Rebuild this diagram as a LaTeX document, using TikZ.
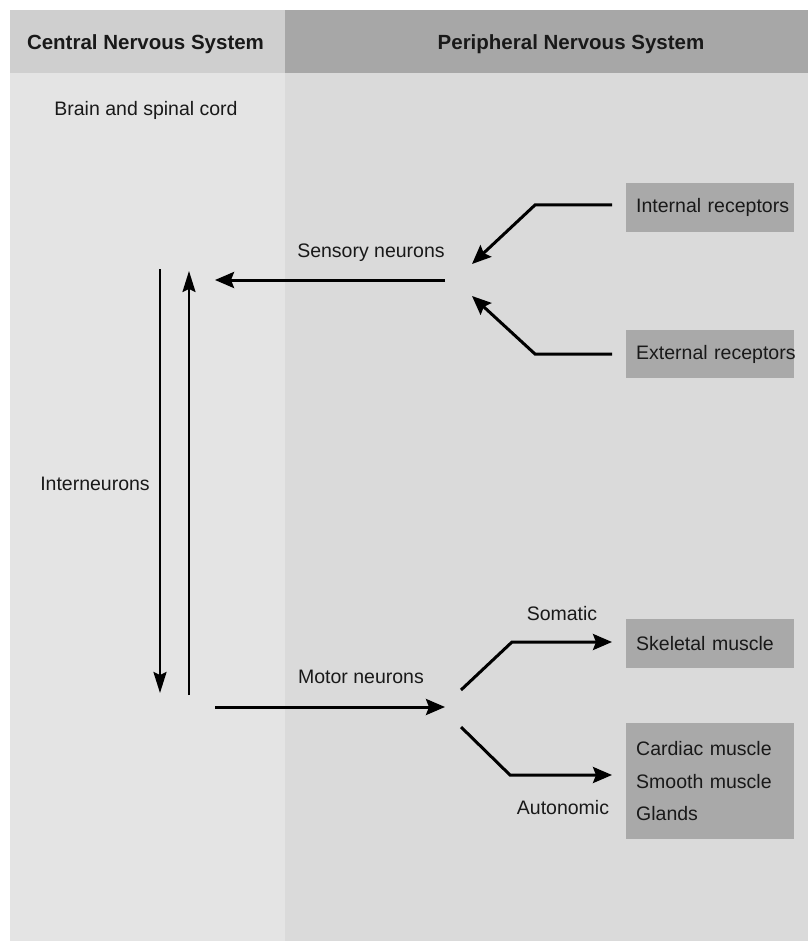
\documentclass[tikz,border=0pt]{standalone}
\usepackage{fontspec}
\setmainfont{Liberation Sans}
\usetikzlibrary{arrows.meta}
\definecolor{cnshead}{HTML}{CFCFCF}
\definecolor{pnshead}{HTML}{A7A7A7}
\definecolor{cnsbody}{HTML}{E4E4E4}
\definecolor{pnsbody}{HTML}{DADADA}
\definecolor{boxfill}{HTML}{A9A9A9}
\begin{document}
\begin{tikzpicture}[x=1pt,y=-1pt,
  lbl/.style={font=\fontsize{19.5}{23}\selectfont, inner sep=0pt, text=black!90},
  head/.style={font=\bfseries\fontsize{20.5}{24}\selectfont, inner sep=0pt, text=black!90},
  rbox/.style={fill=boxfill, anchor=north west, text width=148pt, inner xsep=10pt,
    inner ysep=0pt, align=left, font=\fontsize{19.5}{32.5}\selectfont, text=black!90},
  conn/.style={line width=3pt, line join=miter, -{Stealth[length=19pt,width=16pt,inset=3pt]}},
  vconn/.style={line width=2.5pt, -{Stealth[length=21pt,width=13pt,inset=3pt]}}]
\useasboundingbox (0,0) rectangle (808,941);
\fill[white] (0,0) rectangle (808,941);
% panels
\fill[cnsbody] (10,73) rectangle (285,941);
\fill[pnsbody] (285,73) rectangle (808,941);
\fill[cnshead] (10,10) rectangle (285,73);
\fill[pnshead] (285,10) rectangle (808,73);
% titles
\node[head] (cnsT) at (145.5,44) {Central Nervous System};
\node[head] (pnsT) at (571,44) {Peripheral Nervous System};
\node[lbl] (brain) at (146,110) {Brain and spinal cord};
% labels
\node[lbl] (sens) at (371,253) {Sensory neurons};
\node[lbl] (inter) at (95,484) {Interneurons};
\node[lbl] (motor) at (361,677) {Motor neurons};
\node[lbl] (som) at (562,614) {Somatic};
\node[lbl] (auto) at (563,808) {Autonomic};
% boxes
\node[rbox, minimum height=49pt] (ir) at (626,183) {\mbox{Internal receptors}};
\node[rbox, minimum height=48pt] (er) at (626,330) {\mbox{External receptors}};
\node[rbox, minimum height=49pt] (sk) at (626,619) {\mbox{Skeletal muscle}};
\node[rbox, minimum height=116pt] (cm) at (626,723) {\mbox{Cardiac muscle}\\\mbox{Smooth muscle}\\Glands};
% connector points
\coordinate (sensR) at (445,280);
\coordinate (sensL) at (215,280);
\coordinate (irA) at (612,205);
\coordinate (irB) at (535,205);
\coordinate (irC) at (472,264);
\coordinate (erA) at (612,354);
\coordinate (erB) at (535,354);
\coordinate (erC) at (472,296);
\coordinate (dnT) at (160,269);
\coordinate (dnB) at (160,693);
\coordinate (upB) at (189,695);
\coordinate (upT) at (189,271);
\coordinate (motL) at (215,707);
\coordinate (motR) at (445,707);
\coordinate (soA) at (461,690);
\coordinate (soB) at (512,642);
\coordinate (soC) at (612,642);
\coordinate (auA) at (461,727);
\coordinate (auB) at (510,775);
\coordinate (auC) at (612,775);
% connectors
\draw[conn] (sensR) -- (sensL);
\draw[conn] (irA) -- (irB) -- (irC);
\draw[conn] (erA) -- (erB) -- (erC);
\draw[vconn] (dnT) -- (dnB);
\draw[vconn, line width=2pt] (upB) -- (upT);
\draw[conn] (motL) -- (motR);
\draw[conn] (soA) -- (soB) -- (soC);
\draw[conn] (auA) -- (auB) -- (auC);
\end{tikzpicture}
\end{document}
